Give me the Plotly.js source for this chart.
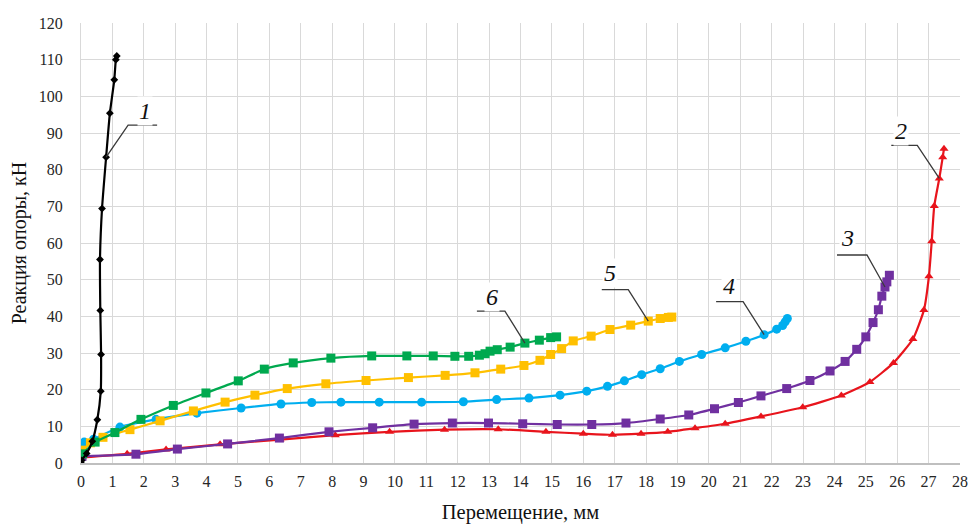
<!DOCTYPE html>
<html>
<head>
<meta charset="utf-8">
<script src="https://cdn.plot.ly/plotly-3.0.1.min.js"></script>
<style>
  html, body { margin: 0; padding: 0; background: #ffffff; }
  #chart { width: 970px; height: 525px; }
</style>
</head>
<body>
<div id="chart"></div>
<script>
// Displacement (mm) and support reaction (kN) for six specimens
const s1x = [0, 0.02, 0.18, 0.36, 0.52, 0.63, 0.64, 0.615, 0.605, 0.67, 0.80, 0.92, 1.06, 1.11, 1.14];
const s1y = [0, 0.7, 2.6, 5.9, 11.8, 19.6, 29.6, 41.6, 55.5, 69.4, 83.4, 95.4, 104.5, 110.0, 111.0];

const s2x = [0.03, 1.47, 2.71, 4.43, 6.34, 8.10, 9.83, 11.58, 13.29, 14.81, 16.00, 16.93, 17.84, 18.69, 19.56, 20.52, 21.66, 22.99, 24.22, 25.13, 25.88, 26.50, 26.85, 27.01, 27.10, 27.18, 27.34, 27.45, 27.49];
const s2y = [1.5, 2.5, 3.7, 5.1, 6.4, 7.6, 8.5, 9.1, 9.2, 8.5, 8.0, 7.7, 8.0, 8.5, 9.5, 10.7, 12.7, 15.2, 18.4, 22.1, 27.3, 33.8, 41.7, 50.9, 60.5, 70.1, 77.6, 83.4, 85.7];

const s3x = [0.03, 1.75, 3.07, 4.67, 6.32, 7.90, 9.29, 10.61, 11.83, 12.98, 14.07, 15.17, 16.27, 17.36, 18.45, 19.36, 20.18, 20.94, 21.66, 22.48, 23.22, 23.86, 24.34, 24.71, 25.00, 25.23, 25.40, 25.51, 25.61, 25.67, 25.75];
const s3y = [1.8, 2.4, 3.8, 5.2, 6.8, 8.5, 9.6, 10.6, 10.9, 10.9, 10.7, 10.5, 10.5, 10.9, 12.0, 13.1, 14.8, 16.5, 18.3, 20.3, 22.5, 25.1, 27.7, 31.0, 34.4, 38.3, 41.8, 45.5, 48.0, 49.4, 51.2];

const s4x = [0.02, 0.05, 0.10, 0.40, 1.24, 2.39, 3.69, 5.10, 6.37, 7.35, 8.28, 9.50, 10.85, 12.18, 13.24, 14.27, 15.26, 16.11, 16.77, 17.31, 17.86, 18.45, 19.06, 19.77, 20.52, 21.18, 21.76, 22.16, 22.35, 22.43, 22.50];
const s4y = [2.7, 4.5, 5.7, 6.5, 9.8, 11.9, 13.6, 15.0, 16.1, 16.5, 16.6, 16.6, 16.6, 16.7, 17.3, 17.7, 18.5, 19.6, 20.9, 22.4, 24.1, 25.7, 27.7, 29.6, 31.4, 33.2, 35.0, 36.5, 37.5, 38.5, 39.4];

const s5x = [0.05, 0.30, 0.70, 1.56, 2.52, 3.58, 4.59, 5.54, 6.57, 7.80, 9.08, 10.43, 11.60, 12.55, 13.37, 14.11, 14.62, 14.96, 15.31, 15.68, 16.25, 16.85, 17.51, 18.07, 18.45, 18.71, 18.82];
const s5y = [3.5, 5.5, 7.0, 9.1, 11.5, 14.2, 16.6, 18.5, 20.3, 21.6, 22.5, 23.3, 23.9, 24.6, 25.6, 26.6, 28.0, 29.6, 31.2, 33.3, 34.6, 36.4, 37.6, 38.7, 39.4, 39.7, 39.8];

const s6x = [0.05, 0.45, 1.08, 1.91, 2.94, 3.98, 5.01, 5.84, 6.76, 7.96, 9.26, 10.38, 11.22, 11.91, 12.35, 12.69, 12.87, 13.03, 13.26, 13.67, 14.14, 14.60, 14.96, 15.15];
const s6y = [2.5, 5.7, 8.3, 11.9, 15.7, 19.1, 22.4, 25.6, 27.3, 28.6, 29.2, 29.2, 29.2, 29.1, 29.1, 29.4, 29.8, 30.5, 30.9, 31.6, 32.7, 33.5, 34.2, 34.4];

const seriesNames = ['1', '2', '3', '4', '5', '6'];
const seriesX = [s1x, s2x, s3x, s4x, s5x, s6x];
const seriesY = [s1y, s2y, s3y, s4y, s5y, s6y];

// Curve number labels: which curve, which point the leader touches
const labelText = ['1', '2', '3', '4', '5', '6'];
const labelSeries = [0, 1, 2, 3, 4, 5];
const labelPoint = [10, 26, 28, 26, 23, 20];

const xTicks = [0, 1, 2, 3, 4, 5, 6, 7, 8, 9, 10, 11, 12, 13, 14, 15, 16, 17, 18, 19, 20, 21, 22, 23, 24, 25, 26, 27, 28];
const yTicks = [0, 10, 20, 30, 40, 50, 60, 70, 80, 90, 100, 110, 120];

// Styling per curve
const colors = ['#000000', '#e8141c', '#7030a0', '#00aeef', '#ffc000', '#00a94f'];
const symbols = ['diamond', 'triangle-up', 'square', 'circle', 'square', 'square'];
const msizes = [6, 8, 9, 9, 9, 9];

// Leader geometry in pixels relative to the touched point (y up): bend, underline end, text centre
const leaderBend = [[22, 32], [-22, 33], [-18, 32], [-21, 33], [-20, 31.5], [-20, 32]];
const leaderEnd = [[51, 32], [-48, 33], [-48, 32], [-48, 33], [-46.5, 31.5], [-48, 32]];
const textShift = [[39, 46], [-38, 47], [-37, 49], [-35, 49], [-38, 48], [-33, 46]];

const drawOrder = [1, 2, 3, 4, 5, 0];
const traces = drawOrder.map(i => ({
  x: seriesX[i],
  y: seriesY[i],
  name: seriesNames[i],
  type: 'scatter',
  mode: 'lines+markers',
  line: { color: colors[i], width: 2.2, shape: 'spline', smoothing: 0.5 },
  marker: { color: colors[i], symbol: symbols[i], size: msizes[i] },
  hoverinfo: 'x+y'
}));

const shapes = [];
const annotations = [];
labelText.forEach((t, k) => {
  const si = labelSeries[k];
  const px = seriesX[si][labelPoint[k]];
  const py = seriesY[si][labelPoint[k]];
  const b = leaderBend[k], e = leaderEnd[k];
  shapes.push({
    type: 'path',
    xref: 'x', yref: 'y',
    xsizemode: 'pixel', ysizemode: 'pixel',
    xanchor: px, yanchor: py,
    path: `M 0 0 L ${b[0]} ${b[1]} L ${e[0]} ${e[1]}`,
    line: { color: '#3a3a3a', width: 1.3 },
    layer: 'above'
  });
  annotations.push({
    x: px, y: py, xref: 'x', yref: 'y',
    text: '<i>' + t + '</i>',
    showarrow: false,
    xshift: textShift[k][0], yshift: textShift[k][1],
    font: { family: 'Liberation Serif, Times New Roman, serif', size: 24, color: '#111111' },
    bgcolor: '#ffffff',
    borderpad: 1
  });
});

const serif = 'Liberation Serif, Times New Roman, serif';
const axisFont = { family: serif, size: 16, color: '#262626' };

const layout = {
  width: 970,
  height: 525,
  margin: { l: 81, r: 10, t: 23, b: 62 },
  paper_bgcolor: '#ffffff',
  plot_bgcolor: '#ffffff',
  showlegend: false,
  xaxis: {
    range: [0, 28],
    tickvals: xTicks,
    ticktext: xTicks.map(String),
    tickfont: axisFont,
    ticks: 'outside', ticklen: 3, tickcolor: 'rgba(0,0,0,0)',
    showgrid: true, gridcolor: '#d9d9d9', gridwidth: 1,
    zeroline: false,
    showline: true, linecolor: '#bfbfbf', linewidth: 1.5,
    title: { text: 'Перемещение, мм', font: { family: serif, size: 20.5, color: '#111111' }, standoff: 16 },
    automargin: false
  },
  yaxis: {
    range: [0, 120],
    tickvals: yTicks,
    ticktext: yTicks.map(String),
    tickfont: axisFont,
    ticks: 'outside', ticklen: 14, tickcolor: 'rgba(0,0,0,0)',
    showgrid: true, gridcolor: '#d9d9d9', gridwidth: 1,
    zeroline: false,
    showline: true, linecolor: '#d9d9d9', linewidth: 1,
    title: { text: 'Реакция опоры, кН', font: { family: serif, size: 20, color: '#111111' }, standoff: 6 },
    automargin: false
  },
  shapes: shapes,
  annotations: annotations
};

Plotly.newPlot('chart', traces, layout, { displayModeBar: false, staticPlot: true });
</script>
</body>
</html>
